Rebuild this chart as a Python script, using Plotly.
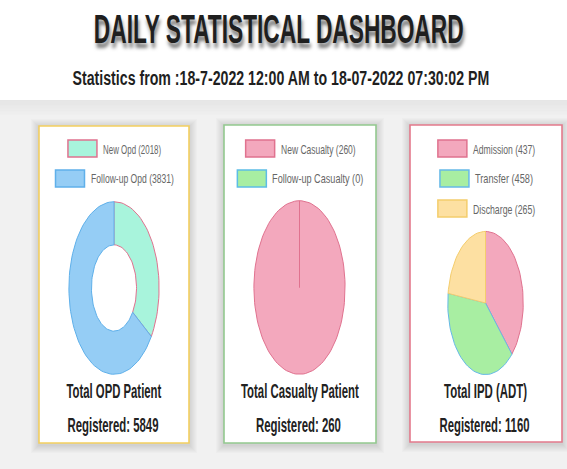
import json
import numpy as np
import plotly.graph_objects as go

W, H = 567, 469

# ---- data ----
opd_labels = ["New Opd", "Follow-up Opd"]
opd_values = [2018, 3831]
cas_labels = ["New Casualty", "Follow-up Casualty"]
cas_values = [260, 0]
ipd_labels = ["Admission", "Transfer", "Discharge"]
ipd_values = [437, 458, 265]

panel_titles = ["Total OPD Patient", "Total Casualty Patient", "Total IPD (ADT)"]
main_title = "DAILY STATISTICAL DASHBOARD"
subtitle = "Statistics from :18-7-2022 12:00 AM to 18-07-2022 07:30:02 PM"

# ---- styles ----
PINK, PINK_LINE = "#f3a8bd", "#e0728f"
MINT = "#a8f4dc"
BLUE, BLUE_LINE = "#95cdf5", "#5fb0ea"
GREEN = "#a8eea2"
YELLOW, YELLOW_LINE = "#fde0a2", "#f4cd6c"

panels = [
    dict(labels=opd_labels, values=opd_values,
         fills=[MINT, BLUE], lines=[PINK_LINE, BLUE_LINE], hole=0.5,
         box=(39, 126, 189, 443), border="#f3cf5f",
         pie=(69, 201, 159, 375), title_w=95, reg_w=91),
    dict(labels=cas_labels, values=cas_values,
         fills=[PINK, GREEN], lines=[PINK_LINE, "#5cbde6"], hole=0.0,
         box=(224, 125, 376, 443), border="#93c98f",
         pie=(254, 200, 345, 375), title_w=118, reg_w=85),
    dict(labels=ipd_labels, values=ipd_values,
         fills=[PINK, GREEN, YELLOW], lines=[PINK_LINE, "#66b9e8", YELLOW_LINE], hole=0.0,
         box=(410, 125, 562, 442), border="#e47a8c",
         pie=(448, 231, 523, 375), title_w=83, reg_w=90),
]

FONT = "Liberation Sans, Arial, Helvetica, sans-serif"


def px_x(x):
    return x / W


def px_y(y):
    return 1 - y / H


def wedge(t0, t1, hole, n=120):
    """Outline of one slice, angles measured clockwise from 12 o'clock."""
    t = np.linspace(t0, t1, max(int(n * (t1 - t0) / (2 * np.pi)), 2) + 1)
    xo, yo = np.sin(t), np.cos(t)
    if hole > 0:
        xi, yi = hole * np.sin(t[::-1]), hole * np.cos(t[::-1])
        xs = np.concatenate([xo, xi, xo[:1]])
        ys = np.concatenate([yo, yi, yo[:1]])
    else:
        xs = np.concatenate([[0], xo, [0]])
        ys = np.concatenate([[0], yo, [0]])
    return xs, ys


fig = go.Figure()
shapes = []
annotations = []
squeeze = []  # per annotation: [target width px, transform origin]


def add_text(x, y, text, size, color, width, anchor="center", weight_bold=True, **font_extra):
    annotations.append(dict(x=px_x(x), y=px_y(y), xref="paper", yref="paper",
                            text=f"<b>{text}</b>" if weight_bold else text,
                            showarrow=False, xanchor=anchor, yanchor="middle",
                            font=dict(family=FONT, size=size, color=color, **font_extra)))
    squeeze.append([width, "left center" if anchor == "left" else "center center"])


# page background: white header, grey body with a soft top shadow
shapes.append(dict(type="rect", xref="paper", yref="paper", x0=0, x1=1,
                   y0=0, y1=px_y(100), fillcolor="#f1f1f1", line_width=0, layer="below"))
for i in range(10):
    shapes.append(dict(type="rect", xref="paper", yref="paper", x0=0, x1=1,
                       y0=px_y(100 + i * 1.5), y1=px_y(100 + (i + 1) * 1.5),
                       fillcolor=f"rgba(205,205,205,{0.04 + 0.03 * (9 - i)})",
                       line_width=0, layer="below"))

for k, p in enumerate(panels):
    x0, y0, x1, y1 = p["box"]
    # soft card shadow
    for s in range(8, 0, -1):
        shapes.append(dict(type="rect", xref="paper", yref="paper",
                           x0=px_x(x0 - s), x1=px_x(x1 + s),
                           y0=px_y(y1 + s + 2), y1=px_y(y0 - s + 1),
                           fillcolor="rgba(0,0,0,0.016)", line_width=0, layer="below"))
    shapes.append(dict(type="rect", xref="paper", yref="paper",
                       x0=px_x(x0), x1=px_x(x1), y0=px_y(y1), y1=px_y(y0),
                       fillcolor="white", line=dict(color=p["border"], width=1.6),
                       layer="below"))

    # pie / doughnut on its own pair of axes
    xa = "xaxis" if k == 0 else f"xaxis{k + 1}"
    ya = "yaxis" if k == 0 else f"yaxis{k + 1}"
    xr = "x" if k == 0 else f"x{k + 1}"
    yr = "y" if k == 0 else f"y{k + 1}"
    px0, py0, px1, py1 = p["pie"]
    fig.layout[xa] = dict(domain=[px_x(px0 - 1), px_x(px1 + 1)], range=[-1.02, 1.02],
                          visible=False, fixedrange=True, anchor=yr)
    fig.layout[ya] = dict(domain=[px_y(py1 + 1), px_y(py0 - 1)], range=[-1.02, 1.02],
                          visible=False, fixedrange=True, anchor=xr)

    total = sum(p["values"])
    start = 0.0
    for lab, val, fc, lc in zip(p["labels"], p["values"], p["fills"], p["lines"]):
        if val <= 0:
            continue
        end = start + 2 * np.pi * val / total
        xs, ys = wedge(start, end, p["hole"])
        fig.add_trace(go.Scatter(x=xs, y=ys, mode="lines", fill="toself",
                                 fillcolor=fc, line=dict(color=lc, width=1),
                                 name=f"{lab} ({val})", xaxis=xr, yaxis=yr,
                                 hoverinfo="name", showlegend=False))
        start = end

    # legend rows, each centred in the card
    cx = (x0 + x1) / 2
    for r, (lab, val, fc, lc) in enumerate(zip(p["labels"], p["values"], p["fills"], p["lines"])):
        text = f"{lab} ({val})"
        tw = 4.15 * len(text)
        bx = cx - (30 + 4 + tw) / 2
        yc = 148.5 + 30 * r
        shapes.append(dict(type="rect", xref="paper", yref="paper",
                           x0=px_x(bx), x1=px_x(bx + 29), y0=px_y(yc + 8.5), y1=px_y(yc - 8.5),
                           fillcolor=fc, line=dict(color=lc, width=1.5)))
        add_text(bx + 33, yc + 0.5, text, 13, "#666666", tw, anchor="left", weight_bold=False)

    add_text(cx - 0.5, 391, panel_titles[k], 20, "#222222", p["title_w"])
    add_text(cx - 1.5, 425, f"Registered: {total}", 20, "#222222", p["reg_w"])

add_text(278, 29, main_title, 41, "#1f1f1f", 370,
         shadow="2px 4px 4px rgba(0,0,0,0.5)")
add_text(281, 78, subtitle, 21, "#1f1f1f", 417)

fig.update_layout(width=W, height=H, autosize=False,
                  margin=dict(l=0, r=0, t=0, b=0, pad=0),
                  paper_bgcolor="white", plot_bgcolor="rgba(0,0,0,0)",
                  shapes=shapes, annotations=annotations, showlegend=False)

# narrow the (condensed-style) lettering horizontally to the wanted widths
post = """
var gd = document.getElementById('{plot_id}');
var spec = %s;
function narrow() {
  gd.querySelectorAll('g.annotation').forEach(function (g) {
    var s = spec[+g.getAttribute('data-index')];
    var t = g.querySelector('text.annotation-text');
    if (!s || !t) return;
    t.style.transform = '';
    var w = t.getBBox().width;
    if (!w) return;
    t.style.transformBox = 'fill-box';
    t.style.transformOrigin = s[1];
    t.style.transform = 'scaleX(' + (s[0] / w) + ')';
  });
}
narrow();
gd.on('plotly_afterplot', narrow);
""" % json.dumps(squeeze)

fig.write_html("out.html", config={"displayModeBar": False}, post_script=post)
